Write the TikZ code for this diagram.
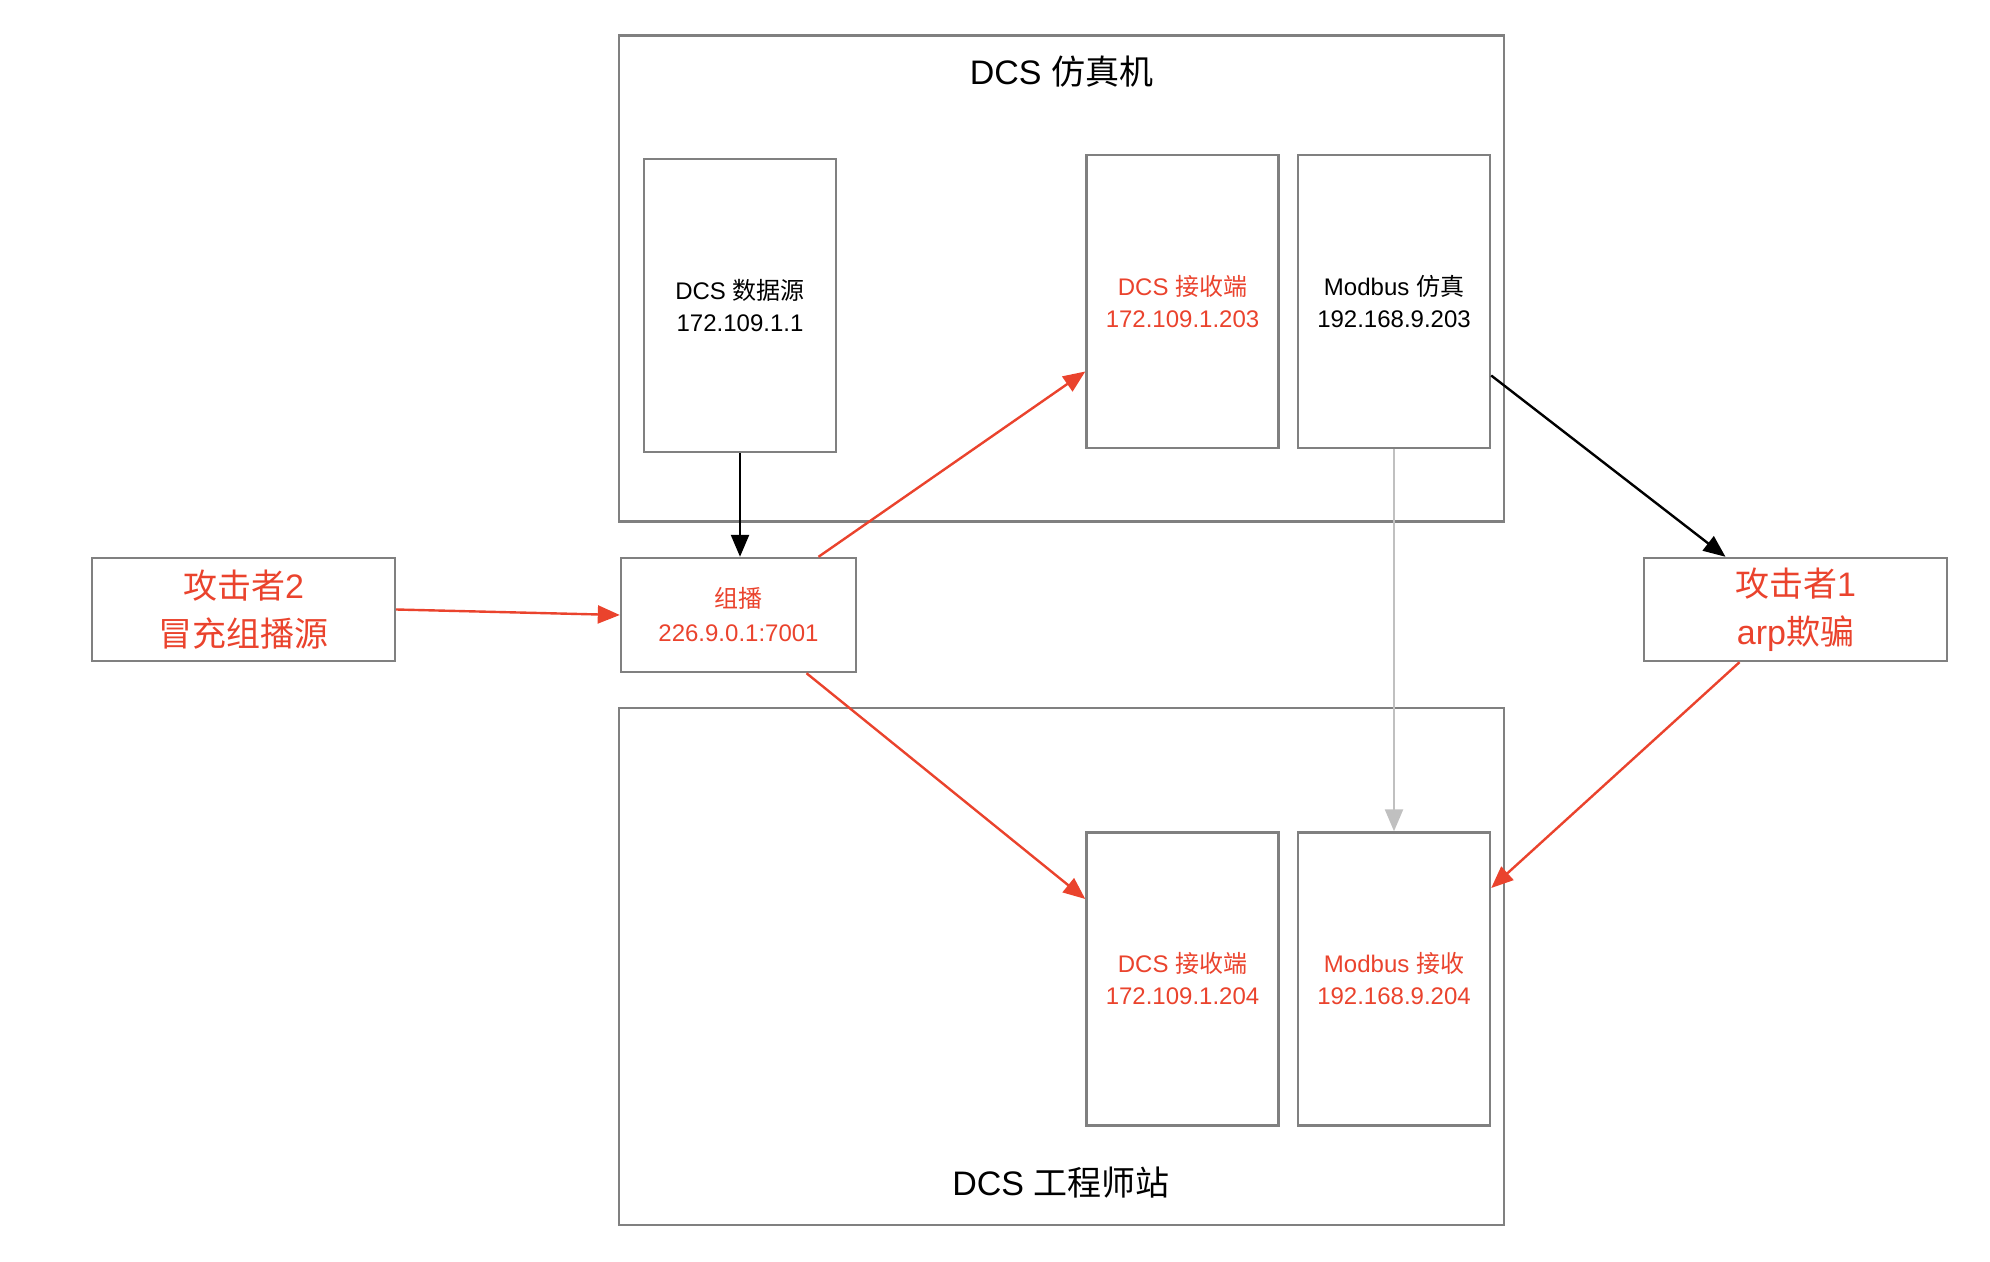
\documentclass[tikz,border=0pt]{standalone}
\usepackage{fontspec}
\setmainfont{Liberation Sans}
\newfontfamily\cjk{Noto Sans CJK SC}
\usetikzlibrary{arrows.meta}
\definecolor{atkred}{RGB}{234,67,45}
\definecolor{boxgray}{RGB}{128,128,128}
\definecolor{linkgray}{RGB}{192,192,192}

\begin{document}
\begin{tikzpicture}[x=1pt, y=1pt]
      \tikzstyle{every node}=[rectangle, draw=boxgray, line width=1.2pt, align=center, inner sep=0pt]
      \tikzstyle{host}=[minimum width=442.5pt]
      \tikzstyle{proc}=[minimum width=96pt, minimum height=146.5pt, font=\fontsize{12}{16}\selectfont]
      \tikzstyle{attacker}=[minimum width=151.5pt, minimum height=51.5pt, text=atkred, font=\fontsize{17}{24}\selectfont]
      \tikzstyle{hosttitle}=[draw=none, font=\fontsize{17}{20}\selectfont]
      \tikzstyle{link}=[line width=1.2pt, -{Triangle[length=11pt, width=9pt]}]

      \useasboundingbox (0,0) rectangle (995,-631);

      % the two hosts
      \path (530.75,-139.25) node[host, minimum height=243pt] (sim) {};
      \path (530.75,-483.25) node[host, minimum height=258.5pt] (eng) {};
      \path (530.75,-35.9) node[hosttitle] (simt) {DCS {\cjk 仿真机}};
      \path (530.5,-591.5) node[hosttitle] (engt) {DCS {\cjk 工程师站}};

      % processes
      \path (370,-152.75) node[proc] (src) {DCS {\cjk 数据源}\\172.109.1.1};
      \path (591.25,-150.75) node[proc, text=atkred] (recva) {DCS {\cjk 接收端}\\172.109.1.203};
      \path (697,-150.75) node[proc] (modsim) {Modbus {\cjk 仿真}\\192.168.9.203};
      \path (591.25,-489.5) node[proc, text=atkred] (recvb) {DCS {\cjk 接收端}\\172.109.1.204};
      \path (697,-489.5) node[proc, text=atkred] (modrecv) {Modbus {\cjk 接收}\\192.168.9.204};

      \path (369.25,-307.5) node[minimum width=117.5pt, minimum height=57pt, text=atkred,
        font=\fontsize{12}{17}\selectfont] (mc) {{\cjk 组播}\\226.9.0.1:7001};

      % attackers
      \path (121.75,-304.75) node[attacker] (atkb) {{\cjk 攻击者}2\\{\cjk 冒充组播源}};
      \path (897.75,-304.75) node[attacker] (atka) {{\cjk 攻击者}1\\arp{\cjk 欺骗}};

      \draw[link] (src.south) -- (src.south |- mc.north);
      \draw[link, draw=linkgray, fill=linkgray] (modsim.south) -- (modrecv.north);
      \draw[link] ([yshift=-37pt]modsim.east) -- ([xshift=-35pt]atka.north);
      \draw[link, atkred]
        (atkb.east) -- (mc.west);
      \draw[link, atkred]
        ([xshift=40pt]mc.north) -- ([yshift=-35pt]recva.west);
      \draw[link, atkred]
        ([xshift=34pt]mc.south) -- ([yshift=40pt]recvb.west);
      \draw[link, atkred]
        ([xshift=-28pt]atka.south) -- ([yshift=45.5pt]modrecv.east);
    \end{tikzpicture}
\end{document}
